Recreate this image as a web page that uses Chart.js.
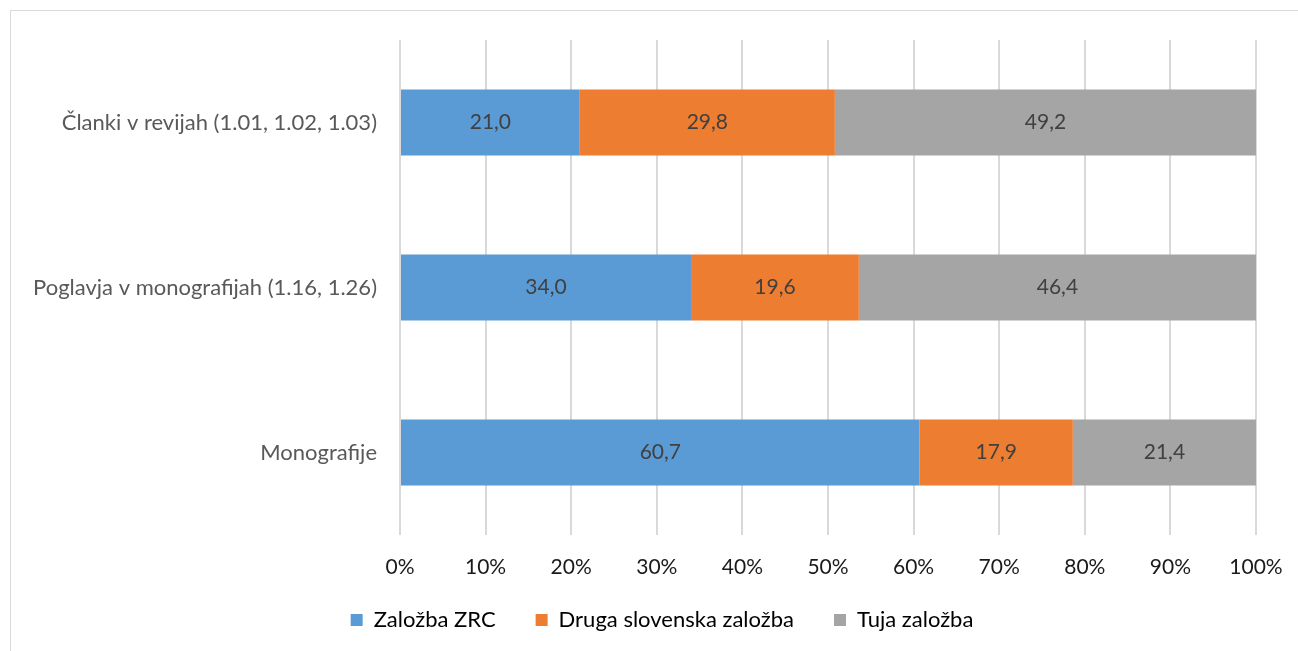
<!DOCTYPE html>
<html>
<head>
<meta charset="utf-8">
<script src="https://cdn.jsdelivr.net/npm/chart.js@4/dist/chart.umd.min.js"></script>
<style>
  html, body { margin: 0; padding: 0; background: #fff; overflow: hidden; }
  #okvir { position: absolute; left: 10px; top: 10px; width: 1300px; height: 700px; border: 1px solid #d9d9d9; }
  #wrap { position: absolute; left: 0; top: 0; width: 1298px; height: 651px; }
</style>
</head>
<body>
<div id="okvir"></div>
<div id="wrap"><canvas id="graf"></canvas></div>
<script>
// kategorije in deleži (v %)
const kategorije = ['Članki v revijah (1.01, 1.02, 1.03)', 'Poglavja v monografijah (1.16, 1.26)', 'Monografije'];
const zalozbaZRC = [21.0, 34.0, 60.7];
const drugaSlovenska = [29.8, 19.6, 17.9];
const tujaZalozba = [49.2, 46.4, 21.4];
const xTicks = [0, 10, 20, 30, 40, 50, 60, 70, 80, 90, 100];

const pisava = 'Lato, "Open Sans", sans-serif';

// izpis vrednosti na sredini vsakega segmenta
const oznake = {
    id: 'oznake',
    afterDatasetsDraw(chart) {
        const ctx = chart.ctx;
        ctx.save();
        ctx.font = '21px ' + pisava;
        ctx.fillStyle = '#404040';
        ctx.textAlign = 'center';
        ctx.textBaseline = 'middle';
        chart.data.datasets.forEach((ds, i) => {
            chart.getDatasetMeta(i).data.forEach((bar, j) => {
                const x = (bar.x + bar.base) / 2;
                ctx.fillText(ds.data[j].toFixed(1).replace('.', ','), x, bar.y);
            });
        });
        ctx.restore();
    }
};

// legenda: fiksna višina in zamik kot v Excelu
const legenda = {
    id: 'legenda',
    afterInit(chart) {
        const l = chart.legend;
        const fit = l.fit;
        l.fit = function () { fit.call(this); this.height = 54; };
    },
    afterLayout(chart) {
        const l = chart.legend;
        l.left += 34; l.right += 34;
        l.top -= 28;
    }
};

new Chart(document.getElementById('graf'), {
    type: 'bar',
    data: {
        labels: kategorije,
        datasets: [
            { label: 'Založba ZRC', data: zalozbaZRC, backgroundColor: '#5B9BD5' },
            { label: 'Druga slovenska založba', data: drugaSlovenska, backgroundColor: '#ED7D31' },
            { label: 'Tuja založba', data: tujaZalozba, backgroundColor: '#A5A5A5' }
        ]
    },
    options: {
        indexAxis: 'y',
        responsive: true,
        maintainAspectRatio: false,
        animation: false,
        layout: { padding: { left: 0, top: 40, right: 42, bottom: 0 } },
        datasets: { bar: { categoryPercentage: 1, barPercentage: 0.4 } },
        plugins: {
            legend: {
                position: 'bottom',
                labels: {
                    boxWidth: 12, boxHeight: 12, padding: 40,
                    color: '#000', font: { family: pisava, size: 22 }
                }
            },
            tooltip: { enabled: false }
        },
        scales: {
            x: {
                stacked: true,
                min: 0, max: 100,
                afterBuildTicks: (scale) => { scale.ticks = xTicks.map(v => ({ value: v })); },
                afterFit: (scale) => {
                    scale.height = 62;
                    scale.paddingLeft = 0;
                    scale.paddingRight = 0;
                },
                grid: { color: '#d9d9d9', lineWidth: 2, drawTicks: false },
                border: { display: false },
                ticks: {
                    padding: 20, color: '#1a1a1a',
                    font: { family: pisava, size: 21 },
                    callback: (v) => v + '%'
                }
            },
            y: {
                stacked: true,
                afterFit: (scale) => { scale.width = 400; },
                grid: { display: false, drawTicks: false },
                border: { display: false },
                ticks: { padding: 23, color: '#595959', font: { family: pisava, size: 22 } }
            }
        }
    },
    plugins: [oznake, legenda]
});
</script>
</body>
</html>
